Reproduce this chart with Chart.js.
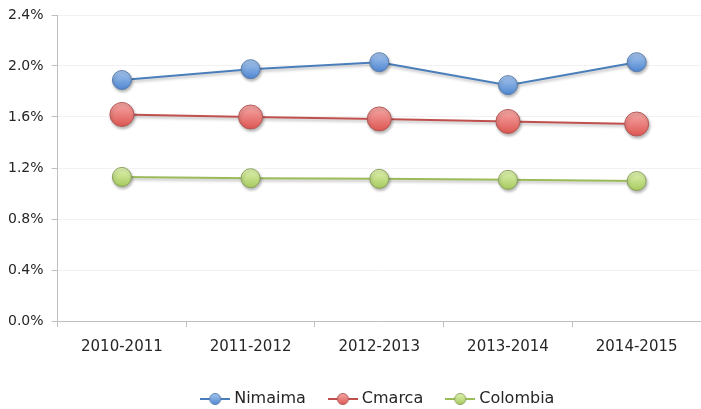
<!DOCTYPE html>
<html>
<head>
<meta charset="utf-8">
<script src="https://cdn.jsdelivr.net/npm/chart.js@4.4.1/dist/chart.umd.min.js"></script>
<style>
  html, body { margin: 0; padding: 0; background: #fff; overflow: hidden; }
  #wrap { width: 701px; height: 417px; position: relative; }
</style>
</head>
<body>
<div id="wrap"><canvas id="chart"></canvas></div>
<script>
// datos
const periodos = ["2010-2011", "2011-2012", "2012-2013", "2013-2014", "2014-2015"];
const nimaima = [1.89, 1.975, 2.03, 1.85, 2.03];
const cmarca = [1.62, 1.60, 1.585, 1.565, 1.545];
const colombia = [1.13, 1.12, 1.115, 1.107, 1.098];
const yTicks = [0, 0.4, 0.8, 1.2, 1.6, 2.0, 2.4];

const FONT = "'DejaVu Sans', sans-serif";

// colores: linea, relleno claro, relleno oscuro, borde
const series = [
  { label: "Nimaima", data: nimaima, line: "#4a7ebb", light: "#a9c8f0", dark: "#4f86d0", border: "#5b7fae", r: 9.5 },
  { label: "Cmarca", data: cmarca, line: "#c0504d", light: "#f7aaa8", dark: "#dc5652", border: "#b25a58", r: 12 },
  { label: "Colombia", data: colombia, line: "#9bbb59", light: "#e2f5b4", dark: "#a6c95e", border: "#8ba35c", r: 9.5 }
];

function pointFill(s) {
  return (ctx) => {
    const chart = ctx.chart;
    if (!chart.chartArea || !chart.scales.y || ctx.raw === undefined) return s.dark;
    const y = chart.scales.y.getPixelForValue(ctx.raw);
    const g = chart.ctx.createLinearGradient(0, y - s.r, 0, y + s.r);
    g.addColorStop(0, s.light);
    g.addColorStop(1, s.dark);
    return g;
  };
}

function legendIcon(s) {
  const c = document.createElement("canvas");
  c.width = 30; c.height = 14;
  const x = c.getContext("2d");
  x.strokeStyle = s.line;
  x.lineWidth = 2;
  x.beginPath(); x.moveTo(0, 7); x.lineTo(30, 7); x.stroke();
  const g = x.createLinearGradient(0, 1, 0, 13);
  g.addColorStop(0, s.light);
  g.addColorStop(1, s.dark);
  x.fillStyle = g;
  x.strokeStyle = s.border;
  x.lineWidth = 1;
  x.beginPath(); x.arc(15, 7, 5.5, 0, Math.PI * 2); x.fill(); x.stroke();
  return c;
}

// sombra suave para lineas y marcadores
const shadowPlugin = {
  id: "shadow",
  beforeDatasetDraw(chart) {
    const ctx = chart.ctx;
    ctx.save();
    ctx.shadowColor = "rgba(0,0,0,0.28)";
    ctx.shadowBlur = 3;
    ctx.shadowOffsetX = 1;
    ctx.shadowOffsetY = 2;
  },
  afterDatasetDraw(chart) {
    chart.ctx.restore();
  }
};

new Chart(document.getElementById("chart"), {
  type: "line",
  data: {
    labels: periodos,
    datasets: series.map(s => ({
      label: s.label,
      data: s.data,
      borderColor: s.line,
      borderWidth: 2,
      pointRadius: s.r,
      pointHoverRadius: s.r,
      pointBorderColor: s.border,
      pointBorderWidth: 1,
      pointBackgroundColor: pointFill(s),
      pointStyle: "circle",
      tension: 0,
      fill: false
    }))
  },
  options: {
    responsive: true,
    maintainAspectRatio: false,
    animation: false,
    layout: { autoPadding: false, padding: { top: 0, right: 0, left: 0, bottom: 0 } },
    plugins: {
      tooltip: { enabled: false },
      legend: {
        position: "bottom",
        fullSize: false,
        labels: {
          usePointStyle: true,
          pointStyleWidth: 22,
          padding: 26,
          color: "#262626",
          font: { family: FONT, size: 16 },
          generateLabels: () => series.map((s, i) => ({
            text: s.label,
            datasetIndex: i,
            pointStyle: legendIcon(s),
            fillStyle: s.dark,
            strokeStyle: s.line,
            lineWidth: 0,
            fontColor: "#262626"
          }))
        }
      }
    },
    scales: {
      x: {
        type: "category",
        offset: true,
        grid: {
          offset: true,
          drawOnChartArea: false,
          drawTicks: true,
          tickLength: 6,
          tickColor: "#bfbfbf"
        },
        border: { display: true, color: "#bfbfbf", width: 1 },
        ticks: { color: "#262626", font: { family: FONT, size: 15 }, padding: 11, maxRotation: 0 },
        afterFit: (scale) => {
          scale.paddingRight = 0;
          scale.paddingLeft = 0;
          scale.height -= 2;
        }
      },
      y: {
        min: 0,
        max: 2.4,
        afterBuildTicks: (axis) => { axis.ticks = yTicks.map(v => ({ value: v })); },
        grid: {
          color: "#f2f2f2",
          drawTicks: true,
          tickLength: 6,
          tickColor: "#bfbfbf"
        },
        border: { display: true, color: "#bfbfbf", width: 1 },
        ticks: {
          color: "#262626",
          font: { family: FONT, size: 14, lineHeight: 1 },
          padding: 8,
          callback: (v) => Number(v).toFixed(1) + "%"
        }
      }
    }
  },
  plugins: [shadowPlugin]
});
</script>
</body>
</html>
